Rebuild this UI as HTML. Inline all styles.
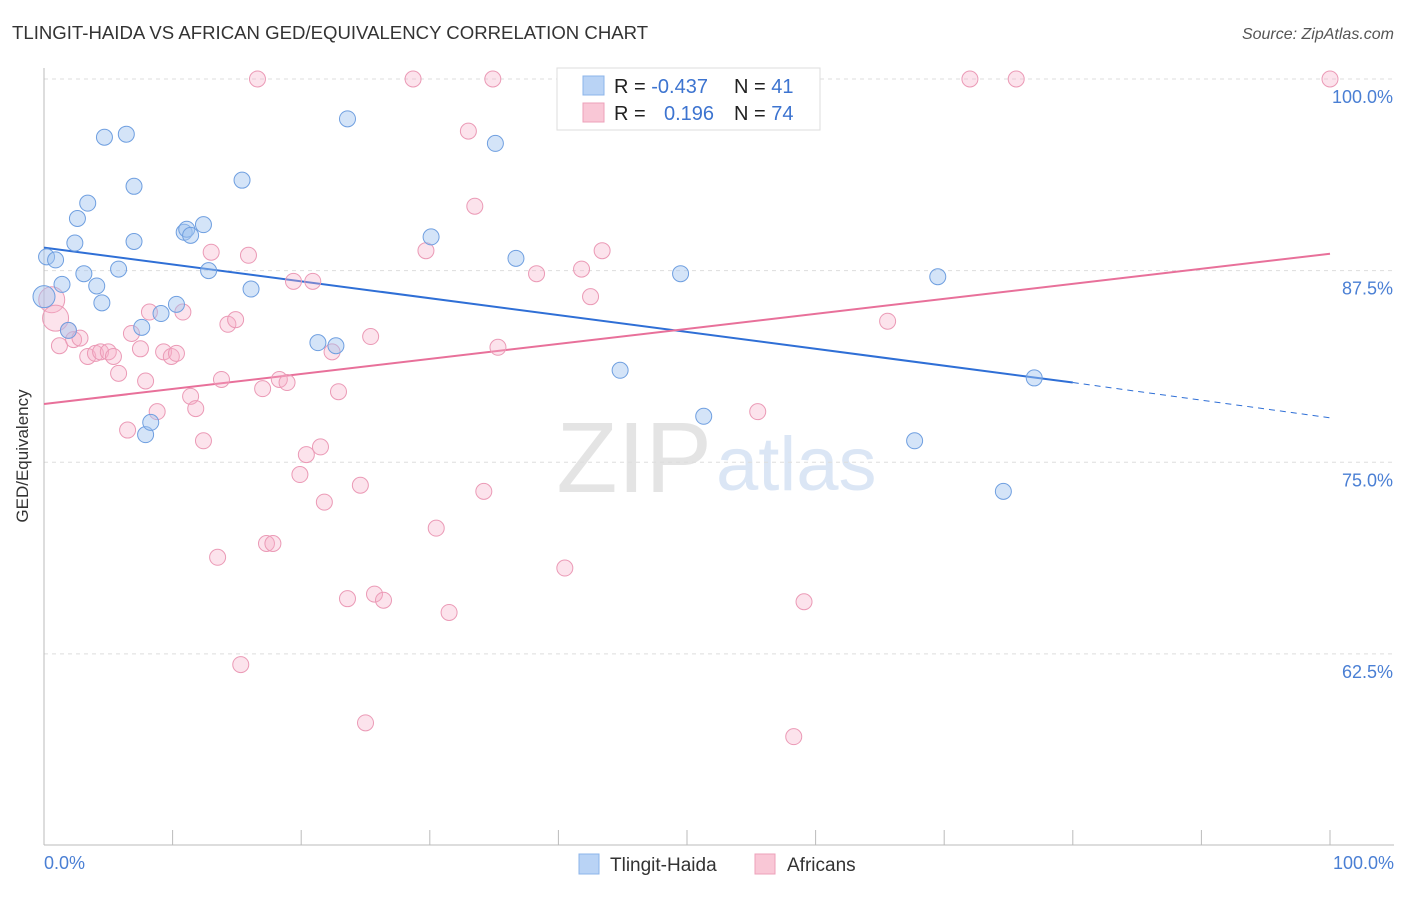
<!DOCTYPE html>
<html><head><meta charset="utf-8"><style>
body{margin:0;background:#fff;font-family:"Liberation Sans",sans-serif;}
svg text{font-family:"Liberation Sans",sans-serif;}
</style></head><body>
<svg id="chart" width="1406" height="892">
<text x="12" y="39" font-size="18.6" fill="#333">TLINGIT-HAIDA VS AFRICAN GED/EQUIVALENCY CORRELATION CHART</text>
<text x="1394" y="39" font-size="16" fill="#555" text-anchor="end" font-style="italic">Source: ZipAtlas.com</text>
<text x="712" y="492" font-size="100" fill="#e4e4e4" text-anchor="end" font-family="Liberation Serif">ZIP</text>
<text x="716" y="490" font-size="76" fill="#dbe6f5">atlas</text>
<g id="grid"></g><g id="axes"></g><g id="trends"></g><g id="points"></g>
<text x="28" y="456" font-size="17" fill="#333" text-anchor="middle" transform="rotate(-90 28 456)">GED/Equivalency</text>
<text x="44" y="869" font-size="18" fill="#4a7fd4">0.0%</text>
<text x="1394" y="869" font-size="18" fill="#4a7fd4" text-anchor="end">100.0%</text>
<g>
<rect x="557" y="68" width="263" height="62" fill="#fff" stroke="#ddd"/>
<rect x="583" y="76" width="21" height="19" fill="#b9d3f5" stroke="#8cb4ea"/>
<rect x="583" y="103" width="21" height="19" fill="#f9c7d6" stroke="#eda0ba"/>
<text x="614" y="93" font-size="20" fill="#222">R = <tspan fill="#3d74d0">-0.437</tspan></text>
<text x="734" y="93" font-size="20" fill="#222">N = <tspan fill="#3d74d0">41</tspan></text>
<text x="614" y="120" font-size="20" fill="#222">R = <tspan fill="#3d74d0" x="664">0.196</tspan></text>
<text x="734" y="120" font-size="20" fill="#222">N = <tspan fill="#3d74d0">74</tspan></text>
</g>
<g>
<rect x="579" y="854" width="20" height="20" fill="#b9d3f5" stroke="#8cb4ea"/>
<text x="610" y="871" font-size="19" fill="#333">Tlingit-Haida</text>
<rect x="755" y="854" width="20" height="20" fill="#f9c7d6" stroke="#eda0ba"/>
<text x="787" y="871" font-size="19" fill="#333">Africans</text>
</g>
</svg>
<script>
const yTicks=[100,87.5,75,62.5];
const yTickLabels=["100.0%","87.5%","75.0%","62.5%"];
const blueX=[0.2,0.9,1.4,1.9,2.4,2.6,3.1,3.4,4.1,4.5,4.7,5.8,6.4,7.0,7.0,7.6,7.9,8.3,9.1,10.3,10.9,11.1,11.4,12.4,12.8,15.4,16.1,21.3,22.7,23.6,30.1,35.1,36.7,44.8,49.5,51.3,67.7,69.5,74.6,77.0,0];
const blueY=[88.4,88.2,86.6,83.6,89.3,90.9,87.3,91.9,86.5,85.4,96.2,87.6,96.4,93.0,89.4,83.8,76.8,77.6,84.7,85.3,90.0,90.2,89.8,90.5,87.5,93.4,86.3,82.8,82.6,97.4,89.7,95.8,88.3,81.0,87.3,78.0,76.4,87.1,73.1,80.5,85.8];
const pinkX=[0.6,0.9,1.2,1.9,2.3,2.8,3.4,4.0,4.4,5.0,5.4,5.8,6.5,6.8,7.5,7.9,8.2,8.8,9.3,9.9,10.3,10.8,11.4,11.8,12.4,13.0,13.5,13.8,14.3,14.9,15.3,15.9,16.6,17.0,17.3,17.8,18.3,18.9,19.4,19.9,20.4,20.9,21.5,21.8,22.4,22.9,23.6,24.6,25.0,25.4,25.7,26.4,28.7,29.7,30.5,31.5,33.0,33.5,34.2,34.9,35.3,38.3,40.5,41.8,42.5,43.4,52.4,55.5,58.3,59.1,65.6,72.0,75.6,100];
const pinkY=[85.6,84.4,82.6,83.6,83.0,83.1,81.9,82.1,82.2,82.2,81.9,80.8,77.1,83.4,82.4,80.3,84.8,78.3,82.2,81.9,82.1,84.8,79.3,78.5,76.4,88.7,68.8,80.4,84.0,84.3,61.8,88.5,100,79.8,69.7,69.7,80.4,80.2,86.8,74.2,75.5,86.8,76.0,72.4,82.2,79.6,66.1,73.5,58.0,83.2,66.4,66.0,100,88.8,70.7,65.2,96.6,91.7,73.1,100,82.5,87.3,68.1,87.6,85.8,88.8,100,78.3,57.1,65.9,84.2,100,100,100];
const bigBlue=[40];const bigPink=[0,1];
const blueTrend=[[0,89.0],[80,80.2],[100,77.9]];
const pinkTrend=[[0,78.8],[100,88.6]];
const NS="http://www.w3.org/2000/svg";
const X=v=>44+v*12.86, Y=v=>79+(100-v)*15.33;
function mk(t,a,p){const e=document.createElementNS(NS,t);for(const k in a)e.setAttribute(k,a[k]);document.getElementById(p).appendChild(e);return e;}
yTicks.forEach((t,i)=>{
 const l=mk('line',{x1:44,x2:1394,y1:Y(t),y2:Y(t),stroke:'#ddd','stroke-dasharray':'4,4'},'grid');
 
 
 const tx=mk('text',{x:1393,y:Y(t)+24,'font-size':18,fill:'#4a7fd4','text-anchor':'end'},'grid');tx.textContent=yTickLabels[i];
 
 
});
const ax=mk('line',{x1:44,x2:44,y1:68,y2:845,stroke:'#bbb'},'axes');


const bx=mk('line',{x1:44,x2:1394,y1:845,y2:845,stroke:'#bbb'},'axes');


for(let i=0;i<=10;i++){const t=mk('line',{x1:X(i*10),x2:X(i*10),y1:830,y2:845,stroke:'#bbb'},'axes');
 
 }
const b1=mk('line',{x1:X(blueTrend[0][0]),y1:Y(blueTrend[0][1]),x2:X(blueTrend[1][0]),y2:Y(blueTrend[1][1]),stroke:'#2f6fd6','stroke-width':2},'trends');


const b2=mk('line',{x1:X(blueTrend[1][0]),y1:Y(blueTrend[1][1]),x2:X(blueTrend[2][0]),y2:Y(blueTrend[2][1]),stroke:'#2f6fd6','stroke-width':1,'stroke-dasharray':'6,5'},'trends');


const p1=mk('line',{x1:X(pinkTrend[0][0]),y1:Y(pinkTrend[0][1]),x2:X(pinkTrend[1][0]),y2:Y(pinkTrend[1][1]),stroke:'#e8709a','stroke-width':2},'trends');


pinkX.forEach((v,i)=>{const c=mk('circle',{cx:X(v),cy:Y(pinkY[i]),r:bigPink.includes(i)?13:8,fill:'rgba(246,176,200,0.35)',stroke:'#eb9ab6','stroke-width':1},'points');
 
 });
blueX.forEach((v,i)=>{const c=mk('circle',{cx:X(v),cy:Y(blueY[i]),r:bigBlue.includes(i)?11:8,fill:'rgba(160,196,240,0.45)',stroke:'#6f9fe0','stroke-width':1},'points');
 
 });
</script>
</body></html>
